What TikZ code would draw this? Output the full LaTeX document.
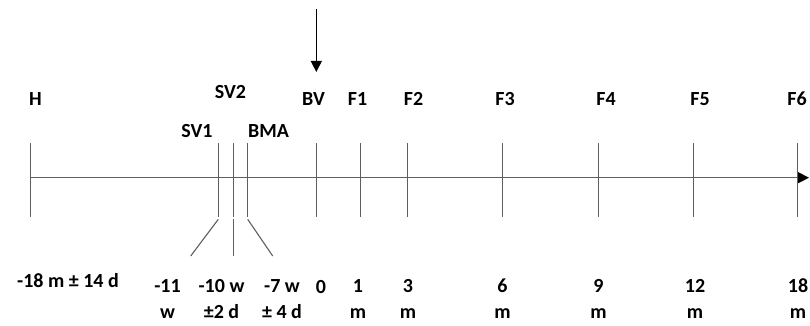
\documentclass[tikz,border=0pt]{standalone}
\usepackage{fontspec}
\setmainfont{Carlito}
\usetikzlibrary{arrows.meta}
\definecolor{linegray}{RGB}{95,95,95}
\tikzset{
  lbl/.style={font=\fontsize{20}{25.5}\selectfont\bfseries, anchor=base, inner sep=0pt, align=center},
  tick/.style={draw=linegray, line width=1.1pt},
  axisline/.style={draw=linegray, line width=1.1pt, -{Triangle[length=11pt,width=11pt,color=black]}},
  downarrow/.style={draw=black, line width=1.1pt, -{Triangle[length=11pt,width=11pt]}}
}
\begin{document}
\begin{tikzpicture}[x=1pt,y=-1pt]
\useasboundingbox (0,0) rectangle (810,326);
% top arrow
\coordinate (arrowtop) at (316.3,9);
\coordinate (arrowtip) at (316.3,72);
\draw[downarrow] (arrowtop) -- (arrowtip);
% axis
\coordinate (axstart) at (30.3,177.7);
\coordinate (axend) at (809,177.7);
\draw[axisline] (axstart) -- (axend);
% ticks
\foreach \n/\x in {H/30.3,SVa/218.3,SVb/233.7,BMA/247.7,BV/316.3,Fa/360.7,Fb/407.3,Fc/502.7,Fd/598.3,Fe/693.3,Ff/797.7}{
  \coordinate (t\n top) at (\x,143);
  \coordinate (t\n bot) at (\x,216.7);
  \draw[tick] (t\n top) -- (t\n bot);
}
% leader lines
\coordinate (sv1a) at (218.3,219.3);
\coordinate (sv1b) at (190.7,256);
\coordinate (sv2a) at (233.7,219.3);
\coordinate (sv2b) at (233.7,256);
\coordinate (bmaa) at (247.7,219.3);
\coordinate (bmab) at (272.7,256);
\draw[tick] (sv1a) -- (sv1b);
\draw[tick] (sv2a) -- (sv2b);
\draw[tick] (bmaa) -- (bmab);
% top labels
\node[lbl] (H) at (35.5,106) {H};
\node[lbl] (SV2) at (230.5,99) {SV2};
\node[lbl] (SV1) at (197,137) {SV1};
\node[lbl] (BMA) at (268.5,137) {BMA};
\node[lbl] (BV) at (313.5,106) {BV};
\node[lbl] (F1) at (357.5,106) {F1};
\node[lbl] (F2) at (413.5,106) {F2};
\node[lbl] (F3) at (505,106) {F3};
\node[lbl] (F4) at (606,106) {F4};
\node[lbl] (F5) at (700,106) {F5};
\node[lbl] (F6) at (797,106) {F6};
% bottom labels
\node[lbl] (bH) at (68,287) {-18 m ± 14 d};
\node[lbl] (bSV1) at (167.5,318) {-11\\w};
\node[lbl] (bSV2) at (221.5,318) {-10 w\\±2 d};
\node[lbl] (bBMA) at (282,318) {-7 w\\± 4 d};
\node[lbl] (bBV) at (321,293) {0};
\node[lbl] (bF1) at (358,318) {1\\m};
\node[lbl] (bF2) at (408,318) {3\\m};
\node[lbl] (bF3) at (502.5,318) {6\\m};
\node[lbl] (bF4) at (598.5,318) {9\\m};
\node[lbl] (bF5) at (695,318) {12\\m};
\node[lbl] (bF6) at (798,318) {18\\m};
\end{tikzpicture}
\end{document}
